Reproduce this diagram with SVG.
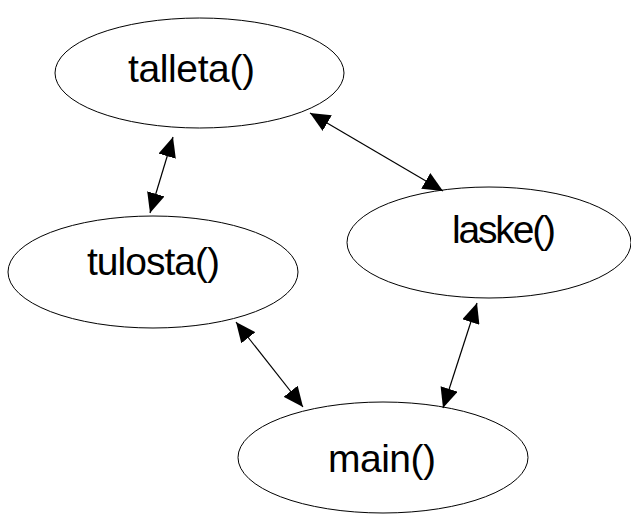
<svg xmlns="http://www.w3.org/2000/svg" width="631" height="514" viewBox="0 0 631 514">
  <style>
    .node ellipse { fill: #ffffff; stroke: #000000; stroke-width: 1; }
    .node text { font-family: "Liberation Sans", Arial, sans-serif; font-size: 39px; fill: #000000; text-anchor: middle; }
    .edge { stroke: #000000; stroke-width: 1.2; fill: none; marker-start: url(#head); marker-end: url(#head); }
  </style>
  <defs>
    <marker id="head" viewBox="0 0 20 18" refX="20" refY="9" markerWidth="20" markerHeight="18" markerUnits="userSpaceOnUse" orient="auto-start-reverse">
      <path d="M0,0 L20,9 L0,18 Z" fill="#000000"/>
    </marker>
  </defs>
  <rect width="631" height="514" fill="#ffffff"/>

  <g id="talleta" class="node">
    <ellipse cx="199.5" cy="73" rx="144.5" ry="55"/>
    <text x="191.5" y="82" textLength="127">talleta()</text>
  </g>
  <g id="tulosta" class="node">
    <ellipse cx="153" cy="272" rx="145" ry="56"/>
    <text x="153.5" y="275" textLength="133">tulosta()</text>
  </g>
  <g id="laske" class="node">
    <ellipse cx="489" cy="242.5" rx="142" ry="55.5"/>
    <text x="504" y="243" textLength="104">laske()</text>
  </g>
  <g id="main" class="node">
    <ellipse cx="383" cy="457.5" rx="145" ry="55.5"/>
    <text x="382" y="472" textLength="108">main()</text>
  </g>

  <g id="connectors">
    <line class="edge" x1="173" y1="137" x2="150" y2="213"/>
    <line class="edge" x1="310" y1="113" x2="443" y2="191"/>
    <line class="edge" x1="236" y1="322" x2="303" y2="407"/>
    <line class="edge" x1="477" y1="303" x2="443" y2="408"/>
  </g>
</svg>
